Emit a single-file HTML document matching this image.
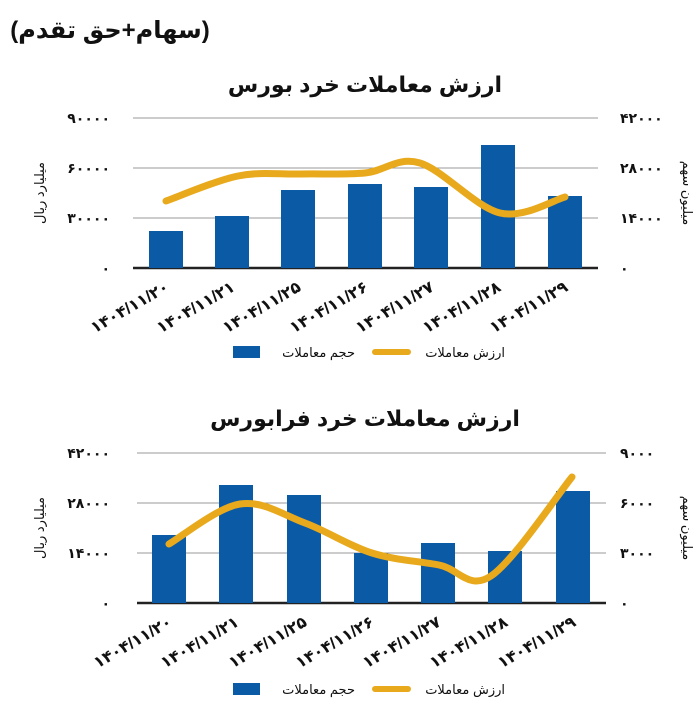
<!DOCTYPE html>
<html><head><meta charset="utf-8"><style>
body{margin:0;background:#fff;width:700px;height:711px;overflow:hidden}
svg{display:block}
text{font-family:"Liberation Sans","Noto Sans CJK SC","DejaVu Sans",sans-serif}
.t{font-weight:bold;fill:#111}
.n{font-weight:bold;font-size:14px;fill:#111}
.xl{font-weight:bold;font-size:16px;fill:#111}
.lg{font-size:13px;fill:#111}
</style></head><body>
<svg id="s" width="700" height="711" viewBox="0 0 700 711">
<text x="110" y="38" class="t" font-size="24" text-anchor="middle" direction="rtl">(سهام+حق تقدم)</text>
<text x="365" y="92" class="t" font-size="22" text-anchor="middle" direction="rtl">ارزش معاملات خرد بورس</text>
<text x="365" y="426" class="t" font-size="22" text-anchor="middle" direction="rtl">ارزش معاملات خرد فرابورس</text>
<g id="c1"></g><g id="c2"></g>
</svg>
<script>
const NS="http://www.w3.org/2000/svg";
function el(g,tag,a,txt){const e=document.createElementNS(NS,tag);for(const k in a)e.setAttribute(k,a[k]);if(txt!==undefined)e.textContent=txt;g.appendChild(e);return e;}
function cr(p){let d="M"+p[0][0]+","+p[0][1];for(let i=0;i<p.length-1;i++){const p0=p[i-1]||p[i],p1=p[i],p2=p[i+1],p3=p[i+2]||p2;
d+=" C"+(p1[0]+(p2[0]-p0[0])/6)+","+(p1[1]+(p2[1]-p0[1])/6)+" "+(p2[0]-(p3[0]-p1[0])/6)+","+(p2[1]-(p3[1]-p1[1])/6)+" "+p2[0]+","+p2[1];}return d;}
const dates=["۱۴۰۴/۱۱/۲۰","۱۴۰۴/۱۱/۲۱","۱۴۰۴/۱۱/۲۵","۱۴۰۴/۱۱/۲۶","۱۴۰۴/۱۱/۲۷","۱۴۰۴/۱۱/۲۸","۱۴۰۴/۱۱/۲۹"];
function chart(id,o){const g=document.getElementById(id);
o.grid.forEach((y,i)=>{el(g,"line",{x1:o.x0,x2:o.x1,y1:y,y2:y,stroke:i==3?"#222":"#999","stroke-width":i==3?2.5:1});
el(g,"text",{x:110,y:y+5,class:"n","text-anchor":"end"},o.ll[i]);
el(g,"text",{x:620,y:y+5,class:"n"},o.rl[i]);});
o.bx.forEach((x,i)=>el(g,"rect",{x:x-17,y:o.bt[i],width:34,height:o.grid[3]-o.bt[i],fill:"#0b5aa6"}));
el(g,"path",{d:cr(o.ln),fill:"none",stroke:"#e8a91c","stroke-width":7,"stroke-linecap":"round"});
o.bx.forEach((x,i)=>el(g,"text",{x:x+4,y:o.grid[3]+22,class:"xl","text-anchor":"end",transform:`rotate(-30 ${x+4} ${o.grid[3]+22})`},dates[i]));
const my=(o.grid[1]+o.grid[2])/2;
el(g,"text",{x:44,y:my,class:"lg","text-anchor":"middle",direction:"rtl",transform:`rotate(-90 44 ${my})`},"میلیارد ریال");
el(g,"text",{x:683,y:my,class:"lg","text-anchor":"middle",direction:"rtl",transform:`rotate(90 683 ${my})`},"میلیون سهم");
const ly=o.ly;
el(g,"rect",{x:233,y:ly-6,width:27,height:12,fill:"#0b5aa6"});
el(g,"text",{x:355,y:ly+5,class:"lg","text-anchor":"start",direction:"rtl"},"حجم معاملات");
el(g,"line",{x1:375,x2:408,y1:ly,y2:ly,stroke:"#e8a91c","stroke-width":6,"stroke-linecap":"round"});
el(g,"text",{x:505,y:ly+5,class:"lg","text-anchor":"start",direction:"rtl"},"ارزش معاملات");}
chart("c1",{x0:133,x1:598,grid:[118,168,218,268],ll:["۹۰۰۰۰","۶۰۰۰۰","۳۰۰۰۰","۰"],rl:["۴۲۰۰۰","۲۸۰۰۰","۱۴۰۰۰","۰"],
bx:[166,232,298,365,431,498,565],bt:[231,216,190,184,187,145,196],
ln:[[166,201],[238,176],[300,174],[365,173],[420,163],[500,213],[565,197]],ly:352});
chart("c2",{x0:137,x1:606,grid:[453,503,553,603],ll:["۴۲۰۰۰","۲۸۰۰۰","۱۴۰۰۰","۰"],rl:["۹۰۰۰","۶۰۰۰","۳۰۰۰","۰"],
bx:[169,236,304,371,438,505,573],bt:[535,485,495,553,543,551,491],
ln:[[169,544],[240,504],[305,523],[372,553],[439,565],[491,576],[572,477]],ly:689});
</script>
</body></html>
